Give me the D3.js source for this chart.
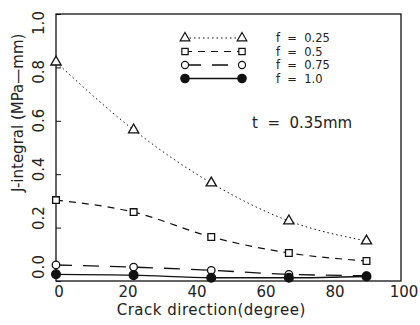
<!DOCTYPE html>
<html>
<head>
<meta charset="utf-8">
<script src="https://cdn.jsdelivr.net/npm/d3@7"></script>
<style>
  body { margin: 0; background: #fff; }
  svg { display: block; }
  text { font-family: "DejaVu Sans", sans-serif; fill: #222; }
</style>
</head>
<body>
<div id="chart"></div>
<script>
// crack direction (degree)
const angles = [0, 22.5, 45, 67.5, 90];
// J-integral per volume fraction f
const jF025 = [0.82, 0.566, 0.367, 0.225, 0.15];
const jF05 = [0.303, 0.258, 0.165, 0.105, 0.075];
const jF075 = [0.06, 0.052, 0.04, 0.025, 0.02];
const jF10 = [0.025, 0.022, 0.012, 0.012, 0.017];
const seriesNames = ['f  =  0.25', 'f  =  0.5', 'f  =  0.75', 'f  =  1.0'];
const xTicks = [0, 20, 40, 60, 80, 100];
const yTicks = [0, 0.2, 0.4, 0.6, 0.8, 1.0];

const width = 420, height = 325;
const margin = { top: 14, right: 19, bottom: 44, left: 56 };
const w = width - margin.left - margin.right;
const h = height - margin.top - margin.bottom;

const svg = d3.select('#chart').append('svg')
    .attr('width', width)
    .attr('height', height);
const g = svg.append('g')
    .attr('transform', `translate(${margin.left},${margin.top})`);

const x = d3.scaleLinear().domain([0, 100]).range([0, w]);
const y = d3.scaleLinear().domain([0, 1]).range([h, 0]);
// the printed tick labels sit a bit tighter than the ticks themselves
const yLab = d3.scaleLinear().domain([0, 1]).range([h - 14, 9]);

// frame
g.append('rect')
    .attr('width', w).attr('height', h)
    .attr('fill', 'none').attr('stroke', '#111').attr('stroke-width', 1.3);

// y axis: inward ticks, rotated labels
const yAxis = d3.axisRight(y).tickValues(yTicks).tickSize(5).tickFormat('');
g.append('g').call(yAxis).call(a => a.select('.domain').remove())
    .selectAll('line').attr('stroke', '#111');
g.selectAll('.ylab').data(yTicks).join('text')
    .attr('class', 'ylab')
    .attr('transform', d => `translate(-12,${yLab(d)}) rotate(-90)`)
    .attr('text-anchor', 'middle')
    .attr('font-size', 15)
    .text(d => d3.format('.1f')(d));

// x axis labels
g.selectAll('.xlab').data(xTicks).join('text')
    .attr('class', 'xlab')
    .attr('x', d => x(d) + 3)
    .attr('y', h + 16)
    .attr('text-anchor', 'middle')
    .attr('font-size', 15)
    .text(d => d);

g.append('text')
    .attr('x', x(45))
    .attr('y', h + 34)
    .attr('text-anchor', 'middle')
    .attr('font-size', 15)
    .attr('letter-spacing', 0.5)
    .text('Crack direction(degree)');

g.append('text')
    .attr('transform', `translate(-33,${y(0.63)}) rotate(-90)`)
    .attr('text-anchor', 'middle')
    .attr('font-size', 15)
    .text('J-integral (MPa\u2014mm)');

// series
const series = [
    { name: seriesNames[0], vals: jF025, dash: '1.5,3', sym: 'triangle', fill: 'none', sw: 1 },
    { name: seriesNames[1], vals: jF05, dash: '7,6', sym: 'square', fill: 'none', sw: 1.2 },
    { name: seriesNames[2], vals: jF075, dash: '16,11', sym: 'circle', fill: 'none', sw: 1.3 },
    { name: seriesNames[3], vals: jF10, dash: null, sym: 'circle', fill: '#111', sw: 1.4 }
];
const symType = { triangle: d3.symbolTriangle, square: d3.symbolSquare, circle: d3.symbolCircle };

const line = d3.line().curve(d3.curveMonotoneX)
    .x(d => x(d[0])).y(d => y(d[1]));

series.forEach(s => {
    const pts = angles.map((a, i) => [a, s.vals[i]]);
    g.append('path')
        .attr('d', line(pts))
        .attr('fill', 'none')
        .attr('stroke', '#111')
        .attr('stroke-width', s.sw)
        .attr('stroke-dasharray', s.dash);
    g.selectAll(null).data(pts).join('path')
        .attr('transform', d => `translate(${x(d[0])},${y(d[1])})`)
        .attr('d', d3.symbol().type(symType[s.sym]).size(s.fill === 'none' ? 45 : 60))
        .attr('fill', s.fill === 'none' ? '#fff' : s.fill)
        .attr('stroke', '#111')
        .attr('stroke-width', 1.3);
});

// legend
const legend = svg.append('g').attr('transform', 'translate(185,38)');
series.forEach((s, i) => {
    const row = legend.append('g').attr('transform', `translate(0,${i * 13.5})`);
    row.append('line')
        .attr('x1', 0).attr('x2', 57)
        .attr('stroke', '#111')
        .attr('stroke-width', s.sw)
        .attr('stroke-dasharray', s.dash);
    [0, 57].forEach(px => row.append('path')
        .attr('transform', `translate(${px},0)`)
        .attr('d', d3.symbol().type(symType[s.sym]).size(s.fill === 'none' ? 40 : 55))
        .attr('fill', s.fill === 'none' ? '#fff' : s.fill)
        .attr('stroke', '#111')
        .attr('stroke-width', 1.2));
    row.append('text')
        .attr('x', 91).attr('y', 4)
        .attr('font-size', 11.5)
        .style('white-space', 'pre')
        .text(s.name);
});

svg.append('text')
    .attr('x', 252).attr('y', 128)
    .attr('font-size', 15)
    .style('white-space', 'pre')
    .text('t  =  0.35mm');
</script>
</body>
</html>
